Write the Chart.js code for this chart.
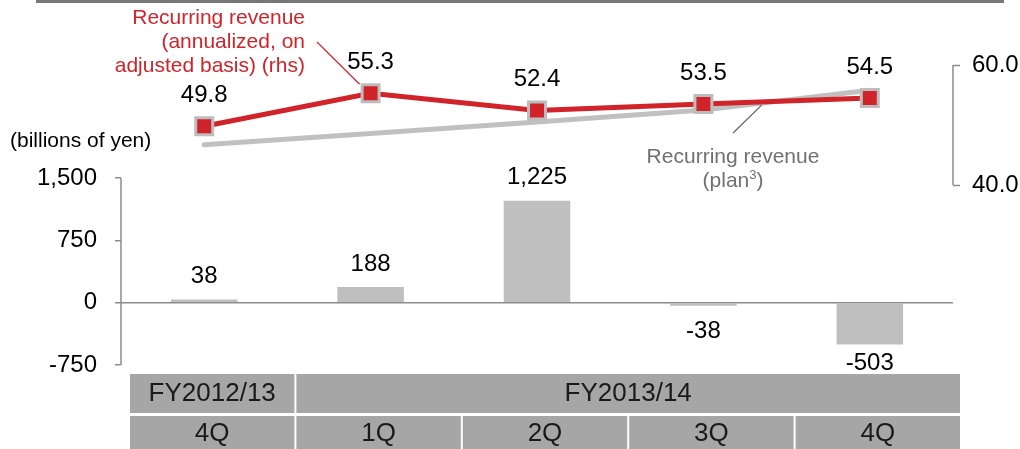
<!DOCTYPE html>
<html>
<head>
<meta charset="utf-8">
<script src="https://cdn.jsdelivr.net/npm/chart.js@4.4.1/dist/chart.umd.min.js"></script>
<style>
  body { margin: 0; background: #fff; }
  canvas { display: block; }
</style>
</head>
<body>
<canvas id="myChart" width="1020" height="449"></canvas>
<script>
// data
const quarters = ['4Q', '1Q', '2Q', '3Q', '4Q']
const fiscalYears = ['FY2012/13', 'FY2013/14']
const fiscalYearSpans = [1, 4]  // quarters per fiscal year
const barValues = [38, 188, 1225, -38, -503]            // billions of yen
const recurringRevenue = [49.8, 55.3, 52.4, 53.5, 54.5] // rhs
const recurringPlan = [46.7, 48.6, 50.5, 52.5, 55.8]    // rhs
const leftTicks = [-750, 0, 750, 1500]
const rightTicks = [40, 60]

const FONT = "'Liberation Sans', Arial, sans-serif"
const RED = '#d0232a'
const AXIS = '#8c8c8c'
const TABLE_TOP = 374

/////////////////////////////////////////////////////////////
// extra drawing: labels, axis brackets, annotations, table
/////////////////////////////////////////////////////////////
function seg(ctx, x1, y1, x2, y2) {
    ctx.beginPath()
    ctx.moveTo(x1, y1)
    ctx.lineTo(x2, y2)
    ctx.stroke()
}

const extras = {
    id: 'extras',
    afterDatasetsDraw(chart) {
        const ctx = chart.ctx
        ctx.save()
        ctx.font = '24px ' + FONT
        ctx.fillStyle = '#000'
        ctx.textAlign = 'center'
        ctx.textBaseline = 'middle'
        // bar values
        chart.getDatasetMeta(0).data.forEach((el, i) => {
            const v = barValues[i]
            // negative labels sit under the bar but stay clear of the table
            const ty = v >= 0 ? el.y - 23 : Math.min(el.y + 26, TABLE_TOP - 11)
            ctx.fillText(v.toLocaleString('en-US'), el.x, ty)
        })
        // recurring revenue values
        chart.getDatasetMeta(2).data.forEach((el, i) => {
            ctx.fillText(recurringRevenue[i].toFixed(1), el.x, el.y - 31)
        })
        ctx.restore()
    },
    afterDraw(chart) {
        const ctx = chart.ctx
        const area = chart.chartArea
        const y = chart.scales.y
        const y2 = chart.scales.y2
        const xs = chart.scales.x
        ctx.save()

        // top rule
        ctx.fillStyle = '#777'
        ctx.fillRect(36, 0, 968, 3)

        // axis lines (only over the tick range)
        ctx.strokeStyle = AXIS
        ctx.lineWidth = 1.5
        seg(ctx, area.left, y.getPixelForValue(1500), area.left, y.getPixelForValue(-750))
        seg(ctx, area.right, y2.getPixelForValue(60), area.right, y2.getPixelForValue(40))

        // unit
        ctx.font = '21px ' + FONT
        ctx.fillStyle = '#000'
        ctx.textAlign = 'left'
        ctx.textBaseline = 'middle'
        ctx.fillText('(billions of yen)', 10, 141)

        // red annotation
        const red = chart.getDatasetMeta(2).data
        ctx.fillStyle = RED
        ctx.textAlign = 'right'
        ;['Recurring revenue', '(annualized, on', 'adjusted basis) (rhs)'].forEach((t, i) => {
            ctx.fillText(t, 305, 18 + i * 24)
        })
        ctx.strokeStyle = RED
        ctx.lineWidth = 1.2
        seg(ctx, 317, 42, red[1].x - 11, red[1].y - 9)

        // grey annotation
        const plan = chart.getDatasetMeta(1).data
        ctx.fillStyle = '#707070'
        ctx.textAlign = 'center'
        ctx.fillText('Recurring revenue', 733, 157)
        const w1 = ctx.measureText('(plan').width
        ctx.font = '13px ' + FONT
        const w2 = ctx.measureText('3').width
        ctx.font = '21px ' + FONT
        const w3 = ctx.measureText(')').width
        let sx = 733 - (w1 + w2 + w3) / 2
        ctx.textAlign = 'left'
        ctx.fillText('(plan', sx, 181)
        ctx.font = '13px ' + FONT
        ctx.fillText('3', sx + w1, 175)
        ctx.font = '21px ' + FONT
        ctx.fillText(')', sx + w1 + w2, 181)
        const t = 0.35
        const lx = plan[3].x + (plan[4].x - plan[3].x) * t
        const ly = plan[3].y + (plan[4].y - plan[3].y) * t
        ctx.strokeStyle = '#606060'
        ctx.lineWidth = 1.2
        seg(ctx, 733, 133, lx, ly + 2)

        // category table
        const half = (xs.right - xs.left) / quarters.length / 2
        const shift = 9, gap = 3
        const cellL = i => xs.getPixelForValue(i) + shift - half
        const cellR = i => xs.getPixelForValue(i) + shift + half + 1 - gap
        ctx.font = '26px ' + FONT
        ctx.textAlign = 'center'
        ctx.textBaseline = 'middle'
        let start = 0
        fiscalYears.forEach((fy, k) => {
            const l = cellL(start), r = cellR(start + fiscalYearSpans[k] - 1)
            ctx.fillStyle = '#a6a6a6'
            ctx.fillRect(l, TABLE_TOP, r - l, 39)
            ctx.fillStyle = '#1a1a1a'
            ctx.fillText(fy, (l + r) / 2, TABLE_TOP + 20)
            start += fiscalYearSpans[k]
        })
        quarters.forEach((q, i) => {
            const l = cellL(i), r = cellR(i)
            ctx.fillStyle = '#a6a6a6'
            ctx.fillRect(l, TABLE_TOP + 42, r - l, 40)
            ctx.fillStyle = '#1a1a1a'
            ctx.fillText(q, (l + r) / 2, TABLE_TOP + 60)
        })
        ctx.restore()
    }
}

/////////////////////////////////////////////////////////////
// chart
/////////////////////////////////////////////////////////////
const config = {
    type: 'bar',
    data: {
        labels: quarters,
        datasets: [{
            label: 'billions of yen',
            data: barValues,
            backgroundColor: '#bfbfbf',
            barPercentage: 0.4,
            categoryPercentage: 1,
            yAxisID: 'y',
            order: 3
        }, {
            type: 'line',
            label: 'Recurring revenue (plan)',
            data: recurringPlan,
            borderColor: '#c0c0c0',
            borderWidth: 5,
            borderCapStyle: 'round',
            pointRadius: 0,
            tension: 0,
            yAxisID: 'y2',
            order: 2
        }, {
            type: 'line',
            label: 'Recurring revenue (annualized, on adjusted basis)',
            data: recurringRevenue,
            borderColor: RED,
            borderWidth: 5,
            pointStyle: 'rect',
            pointRadius: 12,
            pointBackgroundColor: RED,
            pointBorderColor: '#bdbdbd',
            pointBorderWidth: 3,
            tension: 0,
            yAxisID: 'y2',
            order: 1
        }]
    },
    plugins: [extras],
    options: {
        responsive: false,
        animation: false,
        devicePixelRatio: 1,
        layout: { padding: { top: 65, bottom: 84, left: 0, right: 0 } },
        plugins: {
            legend: { display: false },
            tooltip: { enabled: false }
        },
        scales: {
            x: { display: false, offset: true },
            y: {
                position: 'left',
                min: -750,
                max: 2860,
                afterBuildTicks: s => { s.ticks = leftTicks.map(v => ({ value: v })) },
                afterFit: s => { s.width = 121 },
                border: { display: false },
                grid: {
                    drawOnChartArea: true,
                    color: c => (c.tick && c.tick.value === 0) ? AXIS : 'rgba(0,0,0,0)',
                    lineWidth: 1.5,
                    tickLength: 6,
                    tickColor: AXIS,
                    tickWidth: 1.5
                },
                ticks: {
                    autoSkip: false,
                    padding: 18,
                    color: '#000',
                    font: { family: FONT, size: 24 },
                    callback: v => v.toLocaleString('en-US')
                }
            },
            y2: {
                position: 'right',
                min: 10,
                max: 60,
                afterBuildTicks: s => { s.ticks = rightTicks.map(v => ({ value: v })) },
                afterFit: s => { s.width = 67 },
                border: { display: false },
                grid: {
                    drawOnChartArea: false,
                    tickLength: 7,
                    tickColor: AXIS,
                    tickWidth: 1.5
                },
                ticks: {
                    autoSkip: false,
                    padding: 12,
                    color: '#000',
                    font: { family: FONT, size: 24 },
                    callback: v => v.toFixed(1)
                }
            }
        }
    }
}

const myChart = new Chart(document.getElementById('myChart'), config)
</script>
</body>
</html>
